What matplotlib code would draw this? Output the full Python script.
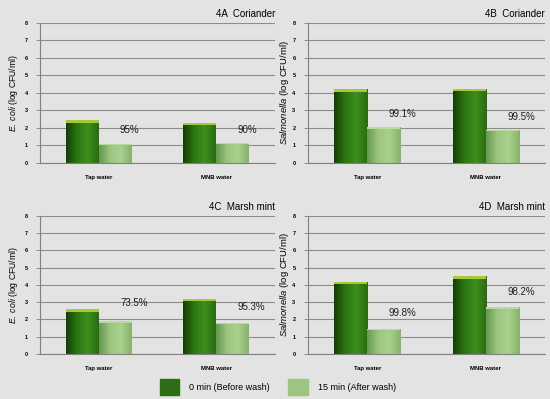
import numpy as np
import matplotlib.pyplot as plt
from matplotlib.colors import LinearSegmentedColormap

plt.rcParams['font.family'] = ['Liberation Sans', 'DejaVu Sans']
plt.rcParams['mathtext.fontset'] = 'custom'
plt.rcParams['mathtext.it'] = 'Liberation Sans:italic'
plt.rcParams['mathtext.rm'] = 'Liberation Sans'

# data
categories = ["Tap water", "MNB water"]
panel_titles = ["4A  Coriander", "4B  Coriander", "4C  Marsh mint", "4D  Marsh mint"]
organisms = ["E.\\ coli", "Salmonella", "E.\\ coli", "Salmonella"]
before_wash = [[2.45, 2.3], [4.2, 4.25], [2.6, 3.2], [4.2, 4.5]]
after_wash = [[1.1, 1.15], [2.05, 1.9], [1.9, 1.8], [1.45, 2.7]]
reduction = [["95%", "90%"], ["99.1%", "99.5%"], ["73.5%", "95.3%"], ["99.8%", "98.2%"]]
label_y = [[1.9, 1.9], [2.8, 2.6], [2.95, 2.75], [2.4, 3.6]]

bg = "#e3e3e3"
dark_cmap = LinearSegmentedColormap.from_list("dk", ["#134004", "#2c7612", "#3e8f1d", "#2a6c11"])
light_cmap = LinearSegmentedColormap.from_list("lt", ["#679850", "#9cc67f", "#a9d08e", "#86b36c"])


def gradient_fill(ax, bars, cmap):
    grad = np.linspace(0, 1, 64).reshape(1, -1)
    for b in bars:
        b.set_facecolor("none")
        x0, y0 = b.get_x(), b.get_y()
        x1, y1 = x0 + b.get_width(), y0 + b.get_height()
        im = ax.imshow(grad, extent=[x0, x1, y0, y1], aspect="auto", cmap=cmap,
                       zorder=2, interpolation="bilinear")
        im.set_clip_path(b)


fig = plt.figure(figsize=(5.5, 3.99), dpi=100, facecolor=bg)
boxes = [[0.073, 0.5915, 0.427, 0.351], [0.56, 0.5915, 0.431, 0.351],
         [0.073, 0.1128, 0.427, 0.346], [0.56, 0.1128, 0.431, 0.346]]

x = np.arange(len(categories))
w = 0.28
for i in range(4):
    ax = fig.add_axes(boxes[i], facecolor=bg)
    b1 = ax.bar(x - w / 2, before_wash[i], w, zorder=2)
    b2 = ax.bar(x + w / 2, after_wash[i], w, zorder=2)
    gradient_fill(ax, b1, dark_cmap)
    gradient_fill(ax, b2, light_cmap)
    cap = 0.14
    ax.bar(x - w / 2, cap, w, bottom=np.array(before_wash[i]) - cap, color="#a6c93a", zorder=3)
    ax.bar(x + w / 2, 0.08, w, bottom=np.array(after_wash[i]) - 0.08, color="#b9d8a2", zorder=3)
    for j in range(2):
        ax.text(x[j] + w / 2 + 0.04, label_y[i][j], reduction[i][j], fontsize=7, color="#1e1e1e",
                ha="left", va="center", zorder=4)
    ax.set_xlim(-0.5, 1.5)
    ax.set_ylim(0, 8)
    ax.set_yticks(range(9))
    ax.set_xticks(x)
    ax.set_xticklabels(categories, fontsize=4.3, fontweight="bold")
    ax.tick_params(axis="x", length=0, pad=9)
    ax.tick_params(axis="y", labelsize=4, length=3, width=0.6, color="#808080", pad=6)
    for t in ax.get_yticklabels():
        t.set_fontweight("bold")
    ax.grid(axis="y", color="#8c8c8c", linewidth=0.8, zorder=0)
    for s in ["top", "right"]:
        ax.spines[s].set_visible(False)
    ax.spines["left"].set_color("#808080")
    ax.spines["bottom"].set_color("#808080")
    if i in (0, 2):
        ax.set_ylabel("$\\it{" + organisms[i] + "}$ (log CFU/ml)", fontsize=6.2, labelpad=3)
    else:
        ax.set_ylabel("$\\it{" + organisms[i] + "}$ (log CFU/ml)", fontsize=6.8, labelpad=1)
    ax.set_title(panel_titles[i], fontsize=7, loc="right", pad=4)
    ax.set_axisbelow(True)

leg_h = [plt.Rectangle((0, 0), 1, 1, color="#2b6e13"), plt.Rectangle((0, 0), 1, 1, color="#9cc67f")]
fig.legend(leg_h, ["0 min (Before wash)", "15 min (After wash)"], loc="center",
           bbox_to_anchor=(0.505, 0.03), ncol=2, frameon=False, fontsize=6.5,
           handlelength=2.2, handleheight=2.2, handletextpad=1.1, columnspacing=2.0)

fig.savefig("out.png", dpi=100, facecolor=bg)
